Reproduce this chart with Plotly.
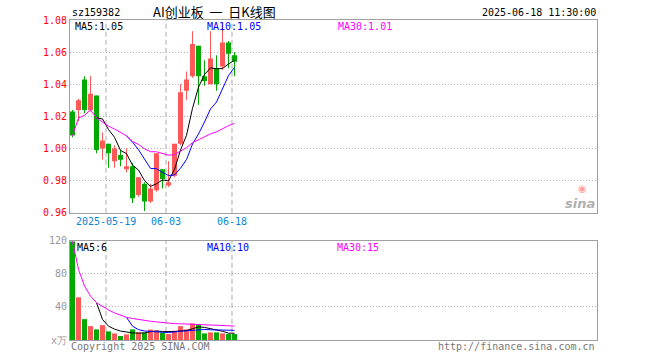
import plotly.graph_objects as go
import pandas as pd

# ---------------- data ----------------
dates = ["2025-05-09", "2025-05-12", "2025-05-13", "2025-05-14", "2025-05-15", "2025-05-16",
         "2025-05-19", "2025-05-20", "2025-05-21", "2025-05-22", "2025-05-23",
         "2025-05-26", "2025-05-27", "2025-05-28", "2025-05-29", "2025-05-30",
         "2025-06-03", "2025-06-04", "2025-06-05", "2025-06-06",
         "2025-06-09", "2025-06-10", "2025-06-11", "2025-06-12", "2025-06-13",
         "2025-06-16", "2025-06-17", "2025-06-18"]
opens = [1.023, 1.024, 1.043, 1.024, 1.033, 1.000, 1.003, 0.992, 0.996, 0.987,
         0.989, 0.971, 0.978, 0.967, 0.974, 0.987, 0.977, 0.983, 1.003, 1.036,
         1.045, 1.064, 1.045, 1.040, 1.050, 1.051, 1.066, 1.058]
highs = [1.024, 1.031, 1.045, 1.045, 1.033, 1.010, 1.003, 1.002, 0.999, 1.000,
         0.991, 0.982, 0.979, 0.978, 0.997, 0.987, 0.992, 1.003, 1.040, 1.048,
         1.073, 1.064, 1.055, 1.073, 1.058, 1.077, 1.067, 1.060]
lows = [1.007, 1.017, 1.022, 1.023, 0.997, 0.993, 0.988, 0.988, 0.989, 0.985,
        0.966, 0.970, 0.961, 0.966, 0.973, 0.975, 0.976, 0.982, 1.002, 1.030,
        1.044, 1.027, 1.039, 1.040, 1.036, 1.049, 1.050, 1.045]
closes = [1.008, 1.030, 1.024, 1.034, 0.999, 1.005, 0.997, 1.000, 0.993, 0.989,
          0.969, 0.982, 0.967, 0.975, 0.997, 0.981, 0.979, 1.003, 1.035, 1.043,
          1.065, 1.045, 1.042, 1.056, 1.040, 1.066, 1.059, 1.054]
volumes = [119.0, 51.6, 25.2, 16.8, 12.8, 18.0, 10.4, 8.0, 4.8, 6.8,
           12.8, 9.2, 9.0, 12.6, 11.2, 8.8, 7.2, 11.2, 16.8, 12.8,
           20.0, 18.4, 8.0, 9.2, 9.2, 8.0, 7.2, 7.2]

price_ticks = [0.96, 0.98, 1.00, 1.02, 1.04, 1.06, 1.08]
vol_ticks = [0, 40, 80, 120]
vol_tick_text = ["x万", "40", "80", "120"]
axis_date_keys = ["2025-05-19", "2025-06-03", "2025-06-18"]
axis_date_text = ["2025-05-19", "06-03", "06-18"]
ma_names = ["MA5", "MA10", "MA30"]
ma_windows = [5, 10, 30]
ma_price_labels = ["1.05", "1.05", "1.01"]
ma_vol_labels = ["6", "10", "15"]

# ---------------- styling ----------------
RED = "#ff5858"
GREEN = "#00a800"
MA_COLORS = ["#000000", "#0000ff", "#ff00ff"]
BORDER = "#a0a0a0"
GRID = "#b4b4b4"
MONO = "DejaVu Sans Mono"

W, H = 660, 360
# plot area in page pixels: x 70..597, y 20..340
L, T = 70, 20
R = W - 597
B = H - 340
PW, PH = W - L - R, H - T - B


def px(x):
    """page pixel x -> paper"""
    return (x - L) / PW


def py(y):
    """page pixel y -> paper"""
    return (H - B - y) / PH


n = len(dates)
idx = list(range(n))
up = [c >= o for o, c in zip(opens, closes)]
colors = [RED if u else GREEN for u in up]

cs = pd.Series(closes)
vs = pd.Series(volumes)
price_ma = []
vol_ma = []
for w in ma_windows:
    mp = 1 if w == 30 else w
    price_ma.append(cs.rolling(w, min_periods=mp).mean())
    vol_ma.append(vs.rolling(w, min_periods=mp).mean())

fig = go.Figure()

# wicks
fig.add_trace(go.Bar(
    x=idx, y=[h - l for h, l in zip(highs, lows)], base=lows,
    width=1 / 6, marker=dict(color=colors, line=dict(width=0)),
    xaxis="x", yaxis="y", hoverinfo="skip", showlegend=False))
# bodies
fig.add_trace(go.Bar(
    x=idx, y=[max(abs(c - o), 0.0005) for o, c in zip(opens, closes)],
    base=[min(o, c) for o, c in zip(opens, closes)],
    width=5 / 6, marker=dict(color=colors, line=dict(width=0)),
    xaxis="x", yaxis="y", showlegend=False))

for m, col in zip(price_ma, MA_COLORS):
    fig.add_trace(go.Scatter(x=idx, y=m, mode="lines", line=dict(color=col, width=1),
                             xaxis="x", yaxis="y", showlegend=False))

# volume
fig.add_trace(go.Bar(
    x=idx, y=volumes, width=5 / 6, marker=dict(color=colors, line=dict(width=0)),
    xaxis="x2", yaxis="y2", showlegend=False))
for m, col in zip(vol_ma, MA_COLORS):
    fig.add_trace(go.Scatter(x=idx, y=m, mode="lines", line=dict(color=col, width=1),
                             xaxis="x2", yaxis="y2", showlegend=False))

xr = [-0.417, -0.417 + PW / 6]
axis_common = dict(showline=True, linecolor=BORDER, linewidth=1, mirror=True,
                   zeroline=False, fixedrange=True)

shapes = []
annotations = []
for key, txt in zip(axis_date_keys, axis_date_text):
    xv = dates.index(key) - 0.42
    for yref in ["y domain", "y2 domain"]:
        shapes.append(dict(type="line", xref="x", yref=yref, x0=xv, x1=xv, y0=0, y1=1,
                           line=dict(color="#aaaaaa", width=1, dash="5px,3px"), layer="below"))
    annotations.append(dict(x=xv, xref="x", y=py(221), yref="paper", text=txt,
                            showarrow=False, xanchor="center", yanchor="middle",
                            font=dict(family=MONO, size=10, color="#0a84d6")))

# header
annotations += [
    dict(x=px(70), y=py(12), text="sz159382", xanchor="left"),
    dict(x=px(598), y=py(12), text="2025-06-18 11:30:00", xanchor="right"),
]
for a in annotations[-2:]:
    a.update(xref="paper", yref="paper", showarrow=False, yanchor="middle",
             font=dict(family=MONO, size=10, color="#000000"))
annotations.append(dict(x=px(151), y=py(11.5), xref="paper", yref="paper",
                        text="AI创业板\u00a0\u00a0一\u00a0\u00a0日K线图", showarrow=False,
                        xanchor="left", yanchor="middle",
                        font=dict(family="Noto Sans CJK SC", size=13, color="#000000")))

ma_x = [73, 205, 336]
for name, lab, col, x0 in zip(ma_names, ma_price_labels, MA_COLORS, ma_x):
    annotations.append(dict(x=px(x0), y=py(27), xref="paper", yref="paper",
                            text=f"{name}:{lab}", showarrow=False, xanchor="left",
                            yanchor="middle", font=dict(family=MONO, size=10, color=col)))
ma_vx = [75, 205, 335]
for name, lab, col, x0 in zip(ma_names, ma_vol_labels, MA_COLORS, ma_vx):
    annotations.append(dict(x=px(x0), y=py(247), xref="paper", yref="paper",
                            text=f"{name}:{lab}", showarrow=False, xanchor="left",
                            yanchor="middle", font=dict(family=MONO, size=10, color=col)))

# footer
annotations.append(dict(x=px(69), y=py(346), xref="paper", yref="paper",
                        text="Copyright 2025 SINA.COM", showarrow=False, xanchor="left",
                        yanchor="middle", font=dict(family=MONO, size=10, color="#777777")))
annotations.append(dict(x=px(597), y=py(346), xref="paper", yref="paper",
                        text="http://finance.sina.com.cn", showarrow=False, xanchor="right",
                        yanchor="middle", font=dict(family=MONO, size=10, color="#777777")))
# sina watermark
annotations.append(dict(x=px(597), y=py(203), xref="paper", yref="paper",
                        text="<b><i>sina</i></b>", showarrow=False, xanchor="right",
                        yanchor="middle", font=dict(family="DejaVu Sans", size=13, color="#b0b0b0")))
annotations.append(dict(x=px(582), y=py(188), xref="paper", yref="paper",
                        text="◉", showarrow=False, xanchor="center",
                        yanchor="middle", font=dict(family="DejaVu Sans", size=10, color="#ffa0a0")))

fig.update_layout(
    width=W, height=H,
    margin=dict(l=L, r=R, t=T, b=B, pad=0, autoexpand=False),
    paper_bgcolor="white", plot_bgcolor="white",
    barmode="overlay", showlegend=False,
    xaxis=dict(domain=[0, 1], range=xr, anchor="y", showticklabels=False, showgrid=False,
               **axis_common),
    xaxis2=dict(domain=[0, 1], range=xr, anchor="y2", matches="x", showticklabels=False,
                showgrid=False, **axis_common),
    yaxis=dict(domain=[py(212.7), 1], range=[0.96, 1.08], anchor="x",
               tickvals=price_ticks, tickformat=".2f", ticks="",
               tickfont=dict(family=MONO, size=10, color="#ff0000"),
               showgrid=True, gridcolor=GRID, griddash="1px,2px", gridwidth=1,
               **axis_common),
    yaxis2=dict(domain=[0, py(240.7)], range=[0, 120], anchor="x2",
                tickvals=vol_ticks, ticktext=vol_tick_text, ticks="",
                tickfont=dict(family=MONO, size=10, color="#999999"),
                showgrid=True, gridcolor=GRID, griddash="1px,2px", gridwidth=1,
                **axis_common),
    shapes=shapes,
    annotations=annotations,
    font=dict(family=MONO, size=10),
)

# remove the default 8px page margin so the figure sits at the window origin
fig.write_html("out.html", config={"displayModeBar": False},
               post_script="document.body.style.margin='0';")
